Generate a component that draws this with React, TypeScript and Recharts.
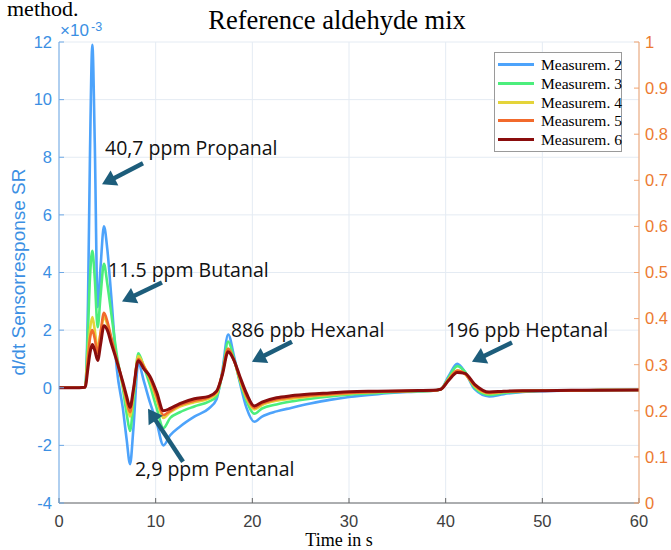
import React from 'react';
import { LineChart, Line, XAxis, YAxis, CartesianGrid, ReferenceLine, ReferenceDot } from 'recharts';

// ---- data (left axis values in units of 1e-3) ----
const TIME = [0, 1.5, 2.7, 3.0, 3.2, 3.45, 3.7, 4.0, 4.3, 4.65, 5.0, 5.4, 6.0, 6.6, 7.0, 7.35, 7.7, 8.2, 8.8, 9.4, 10.1, 10.8, 11.5, 12.5, 14, 15.5, 16.3, 16.9, 17.5, 18.1, 18.7, 19.4, 20.2, 21, 22.5, 24, 26, 28, 30, 33, 36, 38.7, 39.5, 40.3, 41.2, 42, 43, 44.5, 46, 48, 50, 53, 56, 60];

const M2 = [0, 0, 0.02, 3.0, 8.0, 11.9, 8.5, 2.8, 4.2, 5.6, 4.8, 3.2, 0.6, -0.7, -1.8, -2.65, -1.4, 0.85, 0.2, -0.5, -1.2, -2.0, -1.65, -1.35, -1.0, -0.72, -0.4, 0.6, 1.85, 1.1, 0.2, -0.7, -1.18, -1.0, -0.82, -0.7, -0.55, -0.42, -0.32, -0.22, -0.15, -0.1, -0.05, 0.4, 0.83, 0.55, -0.05, -0.3, -0.22, -0.15, -0.12, -0.1, -0.08, -0.08];
const M3 = [0, 0, 0.02, 2.0, 3.8, 4.75, 3.8, 2.1, 3.2, 4.3, 3.6, 2.6, 1.1, 0.0, -0.9, -1.5, -0.5, 1.2, 0.7, 0.1, -0.7, -1.4, -1.05, -0.85, -0.65, -0.48, -0.3, 0.5, 1.6, 1.0, 0.25, -0.45, -0.9, -0.72, -0.58, -0.48, -0.38, -0.3, -0.24, -0.18, -0.13, -0.1, -0.05, 0.35, 0.75, 0.55, 0.0, -0.25, -0.18, -0.13, -0.1, -0.1, -0.08, -0.08];
const M4 = [0, 0, 0.02, 1.2, 2.0, 2.45, 2.0, 1.35, 1.9, 2.45, 2.2, 1.7, 0.9, 0.1, -0.55, -1.0, -0.2, 1.1, 0.75, 0.3, -0.4, -1.05, -0.85, -0.65, -0.5, -0.38, -0.2, 0.5, 1.35, 0.95, 0.3, -0.35, -0.75, -0.6, -0.45, -0.38, -0.3, -0.25, -0.2, -0.15, -0.12, -0.1, -0.05, 0.3, 0.6, 0.48, 0.05, -0.2, -0.15, -0.12, -0.1, -0.1, -0.08, -0.08];
const M5 = [0, 0, 0.02, 1.0, 1.7, 2.0, 1.7, 1.2, 1.9, 2.6, 2.3, 1.75, 0.95, 0.15, -0.45, -0.85, -0.1, 1.0, 0.72, 0.35, -0.3, -0.95, -0.8, -0.6, -0.45, -0.33, -0.15, 0.5, 1.35, 0.95, 0.35, -0.3, -0.7, -0.55, -0.4, -0.33, -0.27, -0.22, -0.18, -0.14, -0.11, -0.1, -0.05, 0.28, 0.6, 0.48, 0.08, -0.18, -0.14, -0.11, -0.1, -0.09, -0.08, -0.08];
const M6 = [0, 0, 0.02, 0.7, 1.2, 1.5, 1.3, 0.95, 1.5, 2.15, 2.0, 1.55, 0.9, 0.2, -0.3, -0.68, -0.05, 0.94, 0.65, 0.4, -0.15, -0.8, -0.72, -0.55, -0.38, -0.3, -0.12, 0.45, 1.25, 0.95, 0.4, -0.2, -0.63, -0.5, -0.35, -0.28, -0.22, -0.18, -0.14, -0.12, -0.1, -0.09, -0.05, 0.25, 0.53, 0.5, 0.12, -0.15, -0.12, -0.1, -0.1, -0.09, -0.09, -0.08];

const SERIES_NAMES = ['Measurem. 2', 'Measurem. 3', 'Measurem. 4', 'Measurem. 5', 'Measurem. 6'];
const SERIES_VALUES = [M2, M3, M4, M5, M6];
const SERIES_COLORS = ['#4da3fb', '#4cee7c', '#e4d43a', '#f26a2c', '#8a0d0d'];

const X_TICKS = [0, 10, 20, 30, 40, 50, 60];
const Y_LEFT_TICKS = [-4, -2, 0, 2, 4, 6, 8, 10, 12];
const Y_RIGHT_TICKS = [0, 0.1, 0.2, 0.3, 0.4, 0.5, 0.6, 0.7, 0.8, 0.9, 1];

// annotations: text anchor point, arrow tail, arrow tip (data coords)
const ANNOTATIONS = [
  { text: '40,7 ppm Propanal', tx: 4.76, ty: 8.07, x1: 8.69, y1: 7.79, x2: 4.45, y2: 7.06 },
  { text: '11.5 ppm Butanal', tx: 5.07, ty: 3.86, x1: 10.65, y1: 3.65, x2: 6.52, y2: 2.99 },
  { text: '886 ppb Hexanal', tx: 17.79, ty: 1.77, x1: 24.1, y1: 1.6, x2: 19.96, y2: 0.9 },
  { text: '196 ppb Heptanal', tx: 40.03, ty: 1.77, x1: 46.86, y1: 1.57, x2: 42.72, y2: 0.9 },
  { text: '2,9 ppm Pentanal', tx: 7.86, ty: -3.06, x1: 12.83, y1: -2.57, x2: 9.21, y2: -0.73 },
];

const data = TIME.map((t, i) => {
  const row: any = { t };
  SERIES_VALUES.forEach((vals, k) => { row['s' + k] = vals[i]; });
  return row;
});

const W = 671;
const H = 550;
const ARROW = '#1d5d7b';
const LEFT_COLOR = '#3b8fe3';
const LEFT_LINE = '#6fa9e6';
const RIGHT_COLOR = '#ec7a30';
const RIGHT_LINE = '#f2a36e';
const SANS = '"Liberation Sans", Arial, Helvetica, sans-serif';
const SERIF = '"Liberation Serif", "Times New Roman", serif';
const ANNO_FONT = '"Open Sans", "Noto Sans", sans-serif';

const arrowShape = (p: any) => {
  const { x1, y1, x2, y2 } = p;
  if ([x1, y1, x2, y2].some((v) => typeof v !== 'number' || isNaN(v))) return <g />;
  const dx = x2 - x1;
  const dy = y2 - y1;
  const len = Math.hypot(dx, dy) || 1;
  const ux = dx / len;
  const uy = dy / len;
  const headL = 14;
  const headW = 8.5;
  const bx = x2 - ux * headL;
  const by = y2 - uy * headL;
  return (
    <g>
      <line x1={x1} y1={y1} x2={bx + ux * 1} y2={by + uy * 1} stroke={ARROW} strokeWidth={4.5} />
      <polygon
        points={`${x2},${y2} ${bx - uy * headW},${by + ux * headW} ${bx + uy * headW},${by - ux * headW}`}
        fill={ARROW}
      />
    </g>
  );
};

const makeTextShape = (text: string) => (p: any) => (
  <text x={p.cx} y={p.cy} fontFamily={ANNO_FONT} fontSize={19.5} fill="#111">
    {text}
  </text>
);

export default function App() {
  return (
    <div style={{ position: 'absolute', left: 0, top: 0, width: W, height: H, background: '#fff', overflow: 'hidden' }}>
      <LineChart width={W} height={H} data={data} margin={{ top: 42, right: 0, bottom: 0, left: 0 }}>
        <CartesianGrid xAxisId="bottom" yAxisId="left" stroke="#e4ebf3" strokeWidth={1} />
        <XAxis
          xAxisId="bottom"
          dataKey="t"
          type="number"
          domain={[0, 60]}
          ticks={X_TICKS}
          height={47}
          stroke="#666"
          tickSize={-5}
          tickMargin={17}
          tick={{ fill: '#404040', fontSize: 16.5, fontFamily: SANS }}
          allowDataOverflow
        />
        <XAxis
          xAxisId="top"
          orientation="top"
          dataKey="t"
          type="number"
          domain={[0, 60]}
          ticks={X_TICKS}
          height={0}
          stroke="#8a8a8a"
          tickSize={-5}
          tick={false}
          allowDataOverflow
        />
        <YAxis
          yAxisId="left"
          type="number"
          domain={[-4, 12]}
          ticks={Y_LEFT_TICKS}
          width={59}
          stroke={LEFT_LINE}
          tickSize={-5}
          tickMargin={12}
          tick={{ fill: LEFT_COLOR, fontSize: 16.5, fontFamily: SANS }}
          allowDataOverflow
        />
        <YAxis
          yAxisId="right"
          orientation="right"
          type="number"
          domain={[0, 1]}
          ticks={Y_RIGHT_TICKS}
          width={32}
          stroke={RIGHT_LINE}
          tickSize={-5}
          tickMargin={11}
          tick={{ fill: RIGHT_COLOR, fontSize: 16.5, fontFamily: SANS }}
          allowDataOverflow
        />
        {SERIES_NAMES.map((name, k) => (
          <Line
            key={name}
            name={name}
            xAxisId="bottom"
            yAxisId="left"
            dataKey={'s' + k}
            type="monotone"
            stroke={SERIES_COLORS[k]}
            strokeWidth={k === 4 ? 3 : 2.6}
            dot={false}
            activeDot={false}
            isAnimationActive={false}
          />
        ))}
        {ANNOTATIONS.map((a) => (
          <ReferenceLine
            key={'arr' + a.text}
            xAxisId="bottom"
            yAxisId="left"
            segment={[{ x: a.x1, y: a.y1 }, { x: a.x2, y: a.y2 }]}
            shape={arrowShape}
          />
        ))}
        {ANNOTATIONS.map((a) => (
          <ReferenceDot
            key={'txt' + a.text}
            xAxisId="bottom"
            yAxisId="left"
            x={a.tx}
            y={a.ty}
            r={0}
            shape={makeTextShape(a.text)}
          />
        ))}
      </LineChart>

      <svg width={W} height={H} style={{ position: 'absolute', left: 0, top: 0, pointerEvents: 'none' }}>
        <text x={7} y={16} fontFamily={SERIF} fontSize={22} fill="#000">method.</text>
        <text x={337} y={29} textAnchor="middle" fontFamily={SERIF} fontSize={26.5} fill="#000">Reference aldehyde mix</text>
        <text x={60} y={36} fontFamily={SANS} fontSize={17} fill={LEFT_COLOR}>×10</text>
        <text x={91} y={31} fontFamily={SANS} fontSize={12.5} fill={LEFT_COLOR}>-3</text>
        <text
          x={18}
          y={272}
          transform="rotate(-90 18 272)"
          textAnchor="middle"
          dominantBaseline="central"
          fontFamily={SANS}
          fontSize={19}
          fill={LEFT_COLOR}
        >
          d/dt Sensorresponse SR
        </text>
        <text x={339} y={546} textAnchor="middle" fontFamily={SERIF} fontSize={18} fill="#000">Time in s</text>
      </svg>

      <div
        style={{
          position: 'absolute',
          left: 494,
          top: 52,
          width: 128,
          height: 100,
          border: '1px solid #9a9a9a',
          background: '#fff',
          boxSizing: 'border-box',
        }}
      >
        {SERIES_NAMES.map((name, k) => (
          <div key={name} style={{ position: 'absolute', left: 3, top: 2 + k * 18.8, height: 19, display: 'flex', alignItems: 'center' }}>
            <div style={{ width: 36, height: 3, background: SERIES_COLORS[k], marginRight: 7 }} />
            <span style={{ fontFamily: SERIF, fontSize: 15.5, color: '#000', lineHeight: '19px', whiteSpace: 'nowrap' }}>{name}</span>
          </div>
        ))}
      </div>
    </div>
  );
}
